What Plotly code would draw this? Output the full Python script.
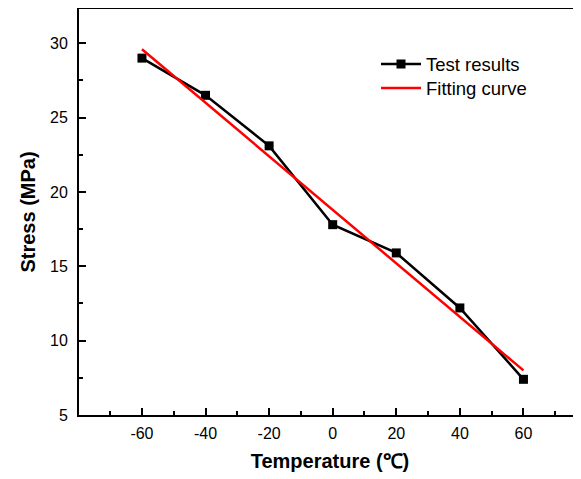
import plotly.graph_objects as go

temperature = [-60, -40, -20, 0, 20, 40, 60]
stress = [29.0, 26.5, 23.1, 17.8, 15.9, 12.2, 7.4]
fit_temperature = [-60, 60]
fit_stress = [29.6, 8.0]
x_tickvals = [-60, -40, -20, 0, 20, 40, 60]
x_ticktext = ["-60", "-40", "-20", "0", "20", "40", "60"]
y_tickvals = [5, 10, 15, 20, 25, 30]
y_ticktext = ["5", "10", "15", "20", "25", "30"]

# page has an 8px body margin, so the figure is sized to end at the window edge
W, H = 573, 471
ml, mr, mt, mb = 71, 0, 1, 64
plot_h = H - mt - mb
plot_w = W - ml - mr

fig = go.Figure()
fig.add_trace(go.Scatter(x=temperature, y=stress, mode="lines+markers", name="Test results",
                         line=dict(color="black", width=2.5),
                         marker=dict(symbol="square", size=9, color="black"),
                         legend="legend"))
fig.add_trace(go.Scatter(x=fit_temperature, y=fit_stress, mode="lines", name="Fitting curve",
                         line=dict(color="red", width=2.5), legend="legend2"))

axis_font = dict(family="Liberation Sans, Arial", size=16, color="black")
title_font = dict(family="Liberation Sans, Arial", size=20, color="black", weight="bold")
legend_font = dict(family="Liberation Sans, Arial", size=18.5, color="black")

def legend_box(top_px):
    return dict(x=(368 - ml) / plot_w, y=1 - (top_px - mt) / plot_h,
                xanchor="left", yanchor="top", bgcolor="rgba(0,0,0,0)",
                font=legend_font, itemwidth=40)

fig.update_layout(
    width=W, height=H,
    margin=dict(l=ml, r=mr, t=mt, b=mb),
    plot_bgcolor="white", paper_bgcolor="white",
    showlegend=True,
    legend=legend_box(37.5),
    legend2=legend_box(61.5),
    xaxis=dict(range=[-79.8, 78.1], tickvals=x_tickvals, ticktext=x_ticktext,
               ticks="inside", ticklen=7, tickwidth=1.5, tickcolor="black",
               minor=dict(ticks="inside", ticklen=4, tickwidth=1.5, tickcolor="black", dtick=10, tick0=0),
               showline=True, linecolor="black", linewidth=2, mirror=True,
               showgrid=False, zeroline=False, tickfont=axis_font, ticklabelstandoff=3,
               title=dict(text="Temperature (℃)", font=title_font, standoff=13)),
    yaxis=dict(range=[5, 5 + plot_h / 14.87], tickvals=y_tickvals, ticktext=y_ticktext,
               ticks="inside", ticklen=7, tickwidth=1.5, tickcolor="black",
               minor=dict(ticks="inside", ticklen=4, tickwidth=1.5, tickcolor="black", dtick=2.5, tick0=0),
               showline=True, linecolor="black", linewidth=2,
               showgrid=False, zeroline=False, tickfont=axis_font, ticklabelstandoff=6,
               title=dict(text="Stress (MPa)", font=title_font, standoff=9)),
)

fig.write_html("out.html")
